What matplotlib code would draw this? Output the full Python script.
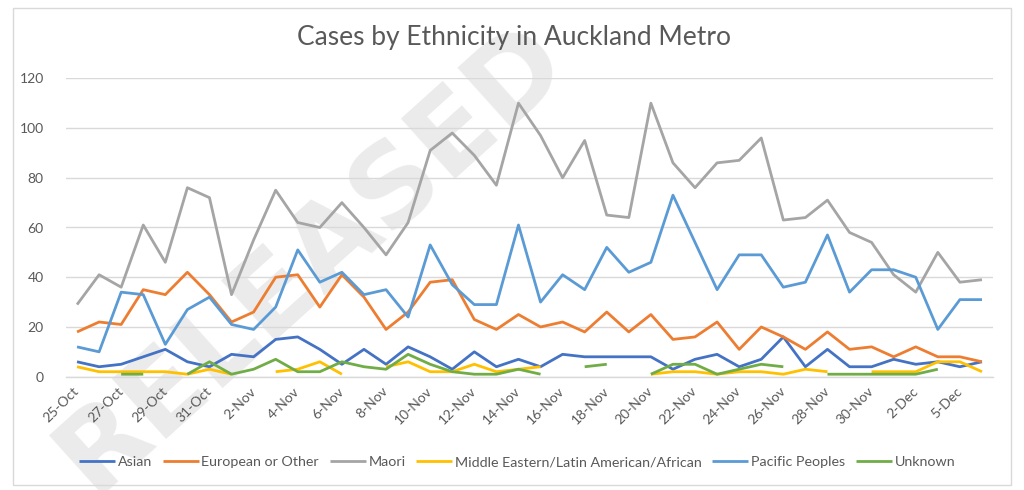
import matplotlib
matplotlib.use("Agg")
import matplotlib.pyplot as plt
import numpy as np
from matplotlib.patches import Rectangle

nan = np.nan

dates = [
    "25-Oct", "26-Oct", "27-Oct", "28-Oct", "29-Oct", "30-Oct", "31-Oct",
    "1-Nov", "2-Nov", "3-Nov", "4-Nov", "5-Nov", "6-Nov", "7-Nov", "8-Nov",
    "9-Nov", "10-Nov", "11-Nov", "12-Nov", "13-Nov", "14-Nov", "15-Nov",
    "16-Nov", "17-Nov", "18-Nov", "19-Nov", "20-Nov", "21-Nov", "22-Nov",
    "23-Nov", "24-Nov", "25-Nov", "26-Nov", "27-Nov", "28-Nov", "29-Nov",
    "30-Nov", "1-Dec", "2-Dec", "4-Dec", "5-Dec", "6-Dec",
]

asian = [6, 4, 5, 8, 11, 6, 4, 9, 8, 15, 16, 11, 5, 11, 5, 12, 8, 3, 10, 4, 7,
         4, 9, 8, 8, 8, 8, 3, 7, 9, 4, 7, 16, 4, 11, 4, 4, 7, 5, 6, 4, 6]
european = [18, 22, 21, 35, 33, 42, 33, 22, 26, 40, 41, 28, 41, 32, 19, 26, 38,
            39, 23, 19, 25, 20, 22, 18, 26, 18, 25, 15, 16, 22, 11, 20, 16, 11,
            18, 11, 12, 8, 12, 8, 8, 6]
maori = [29, 41, 36, 61, 46, 76, 72, 33, 55, 75, 62, 60, 70, 60, 49, 62, 91, 98,
         89, 77, 110, 97, 80, 95, 65, 64, 110, 86, 76, 86, 87, 96, 63, 64, 71,
         58, 54, 41, 34, 50, 38, 39]
middle_eastern = [4, 2, 2, 2, 2, 1, 3, 1, nan, 2, 3, 6, 1, nan, 4, 6, 2, 2, 5, 2,
                  3, 4, nan, nan, nan, nan, 1, 2, 2, 1, 2, 2, 1, 3, 2, nan, 2, 2,
                  2, 6, 6, 2]
pacific = [12, 10, 34, 33, 13, 27, 32, 21, 19, 28, 51, 38, 42, 33, 35, 24, 53, 37,
           29, 29, 61, 30, 41, 35, 52, 42, 46, 73, 54, 35, 49, 49, 36, 38, 57, 34,
           43, 43, 40, 19, 31, 31]
unknown = [nan, nan, 1, 1, nan, 1, 6, 1, 3, 7, 2, 2, 6, 4, 3, 9, 5, 2, 1, 1, 3, 1,
           nan, 4, 5, nan, 1, 5, 5, 1, 3, 5, 4, nan, 1, 1, 1, 1, 1, 3, nan, nan]

series = [
    ("Asian", asian, "#4472C4"),
    ("European or Other", european, "#ED7D31"),
    ("Maori", maori, "#A5A5A5"),
    ("Middle Eastern/Latin American/African", middle_eastern, "#FFC000"),
    ("Pacific Peoples", pacific, "#5B9BD5"),
    ("Unknown", unknown, "#70AD47"),
]

plt.rcParams["font.family"] = ["Lato", "DejaVu Sans"]
text_color = "#595959"
grid_color = "#d9d9d9"

fig = plt.figure(figsize=(10.24, 4.9), dpi=100)
fig.patch.set_facecolor("white")

# watermark behind the chart
fig.text(312 / 1024, 1 - 258 / 490, "RELEASED", rotation=42, ha="center", va="center",
         fontsize=80, fontweight="bold", color="#ebebeb", zorder=-1,
         family="DejaVu Sans")

fig.add_artist(Rectangle((13 / 1024, 1 - 485 / 490), 998 / 1024, 477 / 490,
                         transform=fig.transFigure, fill=False,
                         edgecolor=grid_color, linewidth=1))

ax = fig.add_axes([66 / 1024, 113.3 / 490, 927 / 1024, 298.4 / 490])
ax.set_facecolor("none")

x = np.arange(len(dates))
for name, values, color in series:
    ax.plot(x, values, color=color, linewidth=2.0, label=name,
            solid_capstyle="butt", solid_joinstyle="round")

ax.set_xlim(-0.5, len(dates) - 0.5)
ax.set_ylim(0, 120)
ax.set_yticks(range(0, 121, 20))
ax.yaxis.grid(True, color=grid_color, linewidth=1)
ax.set_axisbelow(True)
for side in ["top", "right", "left"]:
    ax.spines[side].set_visible(False)
ax.spines["bottom"].set_color(grid_color)
ax.spines["bottom"].set_linewidth(1)

ax.set_xticks(x[::2])
ax.set_xticklabels(dates[::2], rotation=45, ha="right", va="center",
                   rotation_mode="anchor")
ax.tick_params(axis="both", length=0, colors=text_color, labelsize=10)
ax.tick_params(axis="x", pad=9)
ax.tick_params(axis="y", pad=16)

fig.text(0.502, 1 - 38 / 490, "Cases by Ethnicity in Auckland Metro", ha="center",
         va="center", fontsize=19, color=text_color)

fig.legend(loc="center", bbox_to_anchor=(0.505, 1 - 462 / 490), ncol=6,
           frameon=False, fontsize=10.3, handlelength=2.5, handletextpad=0.2,
           columnspacing=0.75, labelcolor=text_color)

fig.savefig("out.png", dpi=100)
